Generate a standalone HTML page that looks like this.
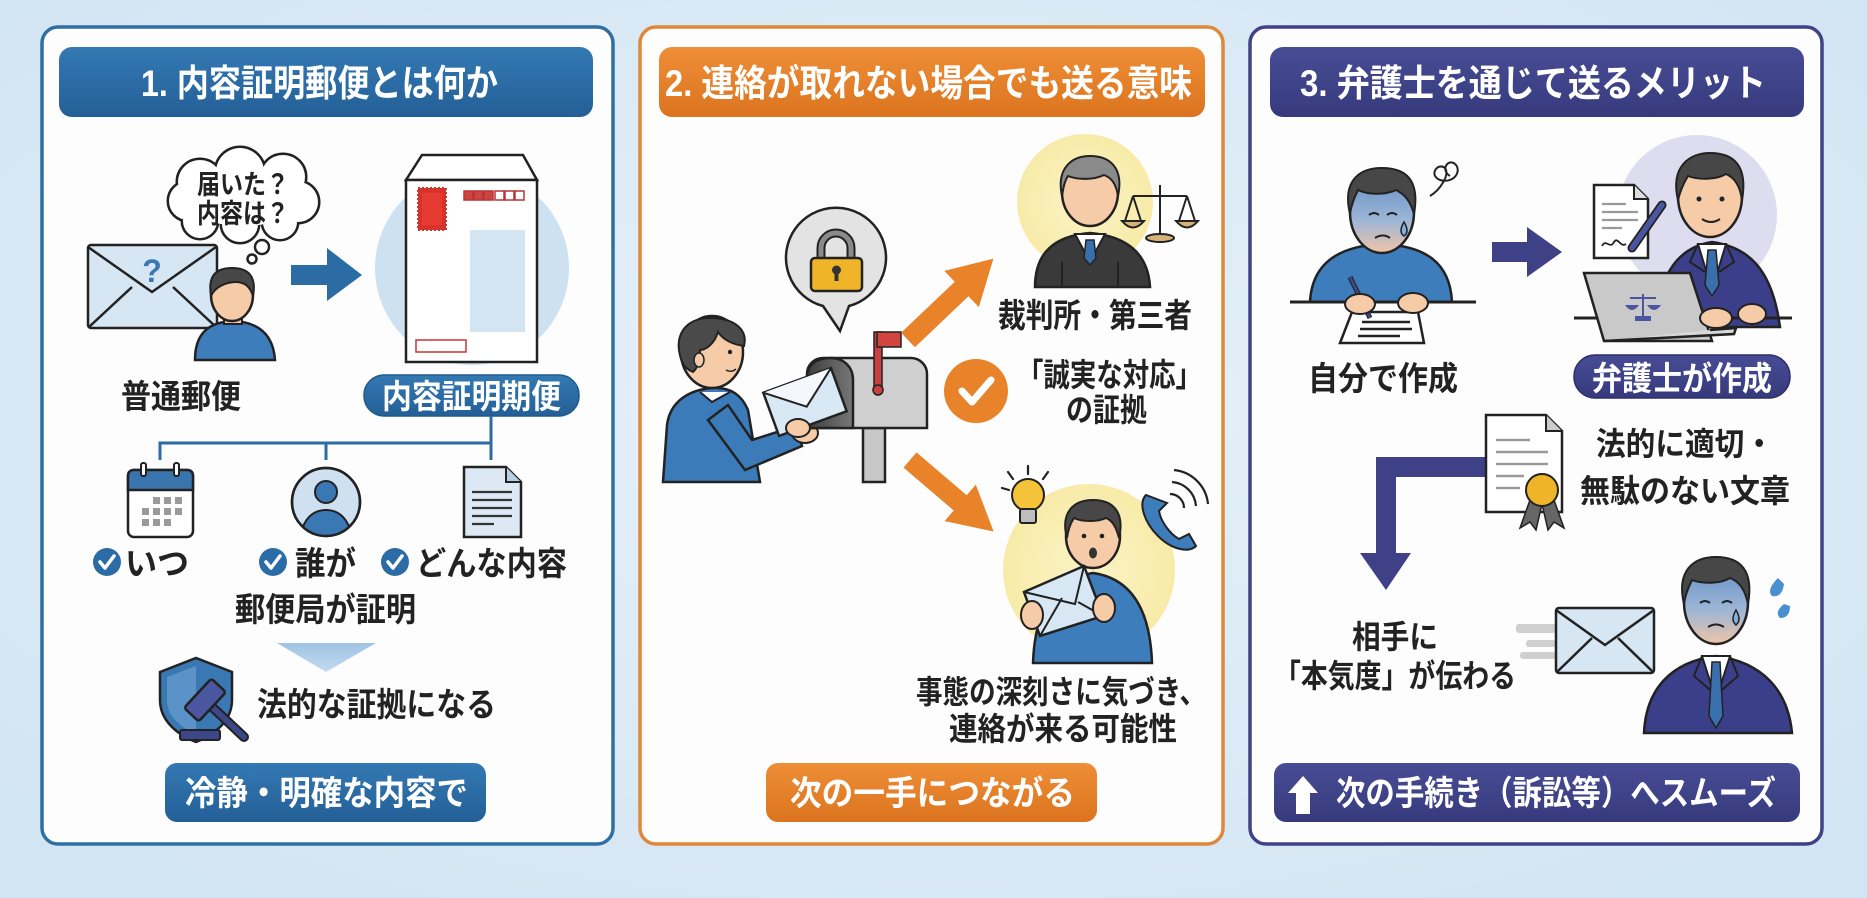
<!DOCTYPE html>
<html><head><meta charset="utf-8">
<style>
html,body{margin:0;padding:0;width:1867px;height:898px;overflow:hidden;background:#d9eaf6;}
svg{display:block}
text{font-family:"Liberation Sans","Noto Sans CJK JP",sans-serif;font-weight:bold;}
</style></head><body>
<svg width="1867" height="898" viewBox="0 0 1867 898" xmlns="http://www.w3.org/2000/svg">
<defs>
<radialGradient id="bg" cx="50%" cy="45%" r="70%"><stop offset="0" stop-color="#e6f1f9"/><stop offset="1" stop-color="#d2e5f3"/></radialGradient>
<linearGradient id="gB" x1="0" y1="0" x2="0" y2="1"><stop offset="0" stop-color="#3479b3"/><stop offset="1" stop-color="#245f97"/></linearGradient>
<linearGradient id="gO" x1="0" y1="0" x2="0" y2="1"><stop offset="0" stop-color="#ee8e36"/><stop offset="1" stop-color="#dc741f"/></linearGradient>
<linearGradient id="gN" x1="0" y1="0" x2="0" y2="1"><stop offset="0" stop-color="#484c95"/><stop offset="1" stop-color="#363a7c"/></linearGradient>
<linearGradient id="tri" x1="0" y1="0" x2="0" y2="1"><stop offset="0" stop-color="#9fc3e3"/><stop offset="1" stop-color="#c3dbef"/></linearGradient>
<linearGradient id="worry" x1="0" y1="0" x2="0" y2="1"><stop offset="0" stop-color="#5f8cc4"/><stop offset="0.6" stop-color="#9db6d6"/><stop offset="1" stop-color="#f0c4a8"/></linearGradient>
<radialGradient id="yel" cx="50%" cy="50%" r="50%"><stop offset="0" stop-color="#fbf3c6"/><stop offset="1" stop-color="#f8eba8"/></radialGradient>
<linearGradient id="mb" x1="0" y1="0" x2="1" y2="0"><stop offset="0" stop-color="#3e3e3e"/><stop offset="1" stop-color="#777"/></linearGradient>
<clipPath id="pc"><circle cx="326" cy="502" r="33"/></clipPath>
</defs>

<rect width="1867" height="898" fill="url(#bg)"/>

<!-- Panels -->
<rect x="42" y="27" width="571" height="817" rx="16" fill="#fdfdfd" stroke="#2f6fa3" stroke-width="3.5"/>
<rect x="640" y="27" width="583" height="817" rx="16" fill="#fdfdfd" stroke="#e0883a" stroke-width="3.5"/>
<rect x="1250" y="27" width="572" height="817" rx="16" fill="#fdfdfd" stroke="#3f4286" stroke-width="3.5"/>

<!-- Headers -->
<rect x="59" y="47" width="534" height="70" rx="13" fill="url(#gB)"/>
<rect x="659" y="47" width="546" height="70" rx="13" fill="url(#gO)"/>
<rect x="1270" y="47" width="534" height="70" rx="13" fill="url(#gN)"/>
<text x="141" y="96" font-size="37" fill="#fff" textLength="357" lengthAdjust="spacingAndGlyphs">1. 内容証明郵便とは何か</text>
<text x="665" y="96" font-size="37" fill="#fff" textLength="527" lengthAdjust="spacingAndGlyphs">2. 連絡が取れない場合でも送る意味</text>
<text x="1300" y="96" font-size="37" fill="#fff" textLength="466" lengthAdjust="spacingAndGlyphs">3. 弁護士を通じて送るメリット</text>

<!-- ============ PANEL 1 ============ -->
<g stroke="#222" stroke-width="5">
<circle cx="200" cy="182" r="22"/><circle cx="240" cy="172" r="24"/><circle cx="283" cy="177" r="22"/>
<circle cx="298" cy="202" r="20"/><circle cx="280" cy="222" r="17"/><circle cx="240" cy="224" r="18"/>
<circle cx="200" cy="221" r="17"/><circle cx="188" cy="201" r="19"/>
</g>
<g fill="#fff">
<circle cx="200" cy="182" r="22"/><circle cx="240" cy="172" r="24"/><circle cx="283" cy="177" r="22"/>
<circle cx="298" cy="202" r="20"/><circle cx="280" cy="222" r="17"/><circle cx="240" cy="224" r="18"/>
<circle cx="200" cy="221" r="17"/><circle cx="188" cy="201" r="19"/>
<ellipse cx="243" cy="198" rx="60" ry="28"/>
</g>
<circle cx="262" cy="247" r="7" fill="#fff" stroke="#222" stroke-width="2.5"/>
<circle cx="252" cy="259" r="4.5" fill="#fff" stroke="#222" stroke-width="2.5"/>
<text x="197" y="194" font-size="27" fill="#222" textLength="92" lengthAdjust="spacingAndGlyphs">届いた？</text>
<text x="197" y="223" font-size="27" fill="#222" textLength="92" lengthAdjust="spacingAndGlyphs">内容は？</text>

<rect x="88" y="245" width="129" height="83" rx="3" fill="#d6e6f3" stroke="#222" stroke-width="2.5"/>
<path d="M88,247 L152,292 L216,247 M89,327 L132,287 M216,327 L173,287" fill="none" stroke="#222" stroke-width="2.5"/>
<text x="152" y="282" font-size="32" fill="#3a78b3" text-anchor="middle">?</text>

<path d="M195,360 C195,332 210,322 233,321 C256,322 273,332 275,360 Z" fill="#3e7dbb" stroke="#222" stroke-width="2.5"/>
<rect x="224" y="312" width="18" height="12" fill="#f4c7a3" stroke="#222" stroke-width="2"/>
<ellipse cx="232" cy="295" rx="21" ry="26" fill="#f6cba7" stroke="#222" stroke-width="2.5"/>
<path d="M211,296 C207,272 220,268 232,268 C247,268 257,275 253,296 C250,286 244,282 236,282 C226,282 215,287 211,296 Z" fill="#474747" stroke="#222" stroke-width="2"/>

<polygon points="291,265 327,265 327,248 362,275 327,301 327,285 291,285" fill="#2b6ca5"/>

<circle cx="472" cy="268" r="97" fill="#cde1f1"/>
<polygon points="422,155 523,155 537,180 406,180" fill="#fff" stroke="#222" stroke-width="2.5"/>
<rect x="406" y="180" width="131" height="182" fill="#fff" stroke="#222" stroke-width="2.5"/>
<rect x="418" y="188" width="28" height="42" fill="#d9312b" stroke="#c0392b" stroke-width="2" stroke-dasharray="2 2"/>
<rect x="422" y="193" width="20" height="32" fill="#e53b32"/>
<g stroke="#b33" stroke-width="1.5">
<rect x="464" y="191" width="9" height="9" fill="#c44"/><rect x="474" y="191" width="9" height="9" fill="#c44"/><rect x="484" y="191" width="9" height="9" fill="#c44"/>
<rect x="495" y="191" width="9" height="9" fill="#fff"/><rect x="505" y="191" width="9" height="9" fill="#fff"/><rect x="515" y="191" width="9" height="9" fill="#fff"/>
</g>
<rect x="470" y="230" width="55" height="102" fill="#d3e4f2"/>
<rect x="416" y="340" width="50" height="12" fill="none" stroke="#c33" stroke-width="1.5"/>

<text x="121" y="408" font-size="33" fill="#222" textLength="120" lengthAdjust="spacingAndGlyphs">普通郵便</text>
<rect x="364" y="375" width="215" height="41" rx="20" fill="url(#gB)" stroke="#1f5a8e" stroke-width="1.5"/>
<text x="382" y="408" font-size="33" fill="#fff" textLength="179" lengthAdjust="spacingAndGlyphs">内容証明期便</text>

<path d="M160,460 V443 H491 M326,443 V460 M491,416 V460" fill="none" stroke="#2b6ca5" stroke-width="3"/>

<rect x="128" y="470" width="65" height="67" rx="6" fill="#fff" stroke="#222" stroke-width="2.5"/>
<path d="M128,490 V476 Q128,470 134,470 H187 Q193,470 193,476 V490 Z" fill="#3a74ad" stroke="#222" stroke-width="2.5"/>
<rect x="141" y="463" width="5" height="13" rx="2" fill="#fff" stroke="#222" stroke-width="2"/>
<rect x="174" y="463" width="5" height="13" rx="2" fill="#fff" stroke="#222" stroke-width="2"/>
<g fill="#9a9a9a">
<rect x="153" y="497" width="7" height="7"/><rect x="164" y="497" width="7" height="7"/><rect x="175" y="497" width="7" height="7"/>
<rect x="142" y="508" width="7" height="7"/><rect x="153" y="508" width="7" height="7"/><rect x="164" y="508" width="7" height="7"/><rect x="175" y="508" width="7" height="7"/>
<rect x="142" y="519" width="7" height="7"/><rect x="153" y="519" width="7" height="7"/><rect x="164" y="519" width="7" height="7"/>
</g>

<circle cx="326" cy="502" r="34" fill="#cfe1f1" stroke="#222" stroke-width="2.5"/>
<g clip-path="url(#pc)">
<path d="M300,540 C302,518 314,510 326,510 C338,510 350,518 352,540 Z" fill="#3a78b3" stroke="#222" stroke-width="2"/>
</g>
<circle cx="326" cy="492" r="11" fill="#3a78b3" stroke="#222" stroke-width="2"/>
<circle cx="326" cy="502" r="34" fill="none" stroke="#222" stroke-width="2.5"/>

<path d="M464,467 H506 L521,482 V537 H464 Z" fill="#dce9f5" stroke="#222" stroke-width="2.5"/>
<path d="M506,467 V482 H521" fill="#b9cfe3" stroke="#222" stroke-width="2"/>
<path d="M472,492 H512 M472,500 H512 M472,508 H512 M472,516 H512 M472,524 H494" stroke="#333" stroke-width="2.2"/>

<g>
<circle cx="107" cy="562" r="14" fill="#2c6ca6"/><path d="M100,562 L105,568 L114,556" fill="none" stroke="#fff" stroke-width="3.5" stroke-linecap="round" stroke-linejoin="round"/>
<circle cx="273" cy="562" r="14" fill="#2c6ca6"/><path d="M266,562 L271,568 L280,556" fill="none" stroke="#fff" stroke-width="3.5" stroke-linecap="round" stroke-linejoin="round"/>
<circle cx="395" cy="562" r="14" fill="#2c6ca6"/><path d="M388,562 L393,568 L402,556" fill="none" stroke="#fff" stroke-width="3.5" stroke-linecap="round" stroke-linejoin="round"/>
</g>
<text x="125" y="575" font-size="33" fill="#222" textLength="64" lengthAdjust="spacingAndGlyphs">いつ</text>
<text x="295" y="575" font-size="33" fill="#222" textLength="61" lengthAdjust="spacingAndGlyphs">誰が</text>
<text x="416" y="575" font-size="33" fill="#222" textLength="151" lengthAdjust="spacingAndGlyphs">どんな内容</text>
<text x="235" y="621" font-size="33" fill="#222" textLength="181" lengthAdjust="spacingAndGlyphs">郵便局が証明</text>

<polygon points="277,643 376,643 326,672" fill="url(#tri)"/>

<path d="M160,672 L196,658 L232,672 V700 C232,720 216,734 196,742 C176,734 160,720 160,700 Z" fill="#3a78b3" stroke="#222" stroke-width="2.5"/>
<path d="M167,677 L196,666 L224,677 V700 C224,716 212,727 196,734 C180,727 167,716 167,700 Z" fill="#5b93c8"/>
<path d="M196,666 L224,677 V700 C224,716 212,727 196,734 Z" fill="#3a78b3"/>
<rect x="180" y="730" width="40" height="10" rx="2" fill="#3d4688" stroke="#222" stroke-width="2"/>
<line x1="210" y1="705" x2="244" y2="737" stroke="#222" stroke-width="10" stroke-linecap="round"/>
<line x1="210" y1="705" x2="244" y2="737" stroke="#3d4688" stroke-width="6" stroke-linecap="round"/>
<g transform="translate(205,700) rotate(43)">
<rect x="-10" y="-20" width="20" height="40" rx="3" fill="#4a56a0" stroke="#222" stroke-width="2.5"/>
</g>
<text x="257" y="716" font-size="33" fill="#222" textLength="239" lengthAdjust="spacingAndGlyphs">法的な証拠になる</text>

<rect x="165" y="763" width="321" height="59" rx="12" fill="url(#gB)"/>
<text x="185" y="805" font-size="34" fill="#fff" textLength="283" lengthAdjust="spacingAndGlyphs">冷静・明確な内容で</text>

<!-- ============ PANEL 2 ============ -->
<path d="M823,306 L840,331 L849,306 A50,50 0 1 0 823,306 Z" fill="#e3e3e3" stroke="#222" stroke-width="2.5"/>
<path d="M821,262 V248 A15,15 0 0 1 851,248 V262" fill="none" stroke="#222" stroke-width="9"/>
<path d="M821,262 V248 A15,15 0 0 1 851,248 V262" fill="none" stroke="#8a8a8a" stroke-width="5"/>
<rect x="811" y="258" width="51" height="33" rx="4" fill="#f0b429" stroke="#222" stroke-width="2.5"/>
<circle cx="836.5" cy="270" r="4.5" fill="#333"/><rect x="834.5" y="271" width="4" height="10" fill="#333"/>

<path d="M663,482 L667,425 C670,402 688,390 712,388 C732,387 742,396 748,410 L760,482 Z" fill="#3c7bb9" stroke="#222" stroke-width="2.5"/>
<path d="M700,392 L712,402 L730,392" fill="#fff" stroke="#222" stroke-width="2"/>
<path d="M708,420 L745,470 L802,446 L796,426 L752,440 L728,405 Z" fill="#3c7bb9" stroke="#222" stroke-width="2.5"/>
<ellipse cx="805" cy="433" rx="13" ry="10" fill="#f6cba7" stroke="#222" stroke-width="2"/>
<ellipse cx="712" cy="352" rx="31" ry="36" fill="#f6cba7" stroke="#222" stroke-width="2.5"/>
<path d="M682,362 C672,335 686,318 710,318 C735,318 748,330 744,346 C730,344 722,338 718,332 C714,345 705,350 700,350 C700,358 698,368 693,372 C688,370 684,366 682,362 Z" fill="#4a4a4a" stroke="#222" stroke-width="2"/>
<ellipse cx="699" cy="360" rx="5" ry="7" fill="#f6cba7" stroke="#222" stroke-width="1.5"/>
<circle cx="730" cy="352" r="2.2" fill="#222"/>
<path d="M726,370 Q731,373 736,369" fill="none" stroke="#222" stroke-width="1.5"/>

<rect x="863" y="428" width="22" height="54" fill="#c8c8c8" stroke="#222" stroke-width="2.5"/>
<path d="M807,428 V374 A16,16 0 0 1 823,358 H911 A16,16 0 0 1 927,374 V428 Z" fill="#cfcfcf" stroke="#222" stroke-width="2.5"/>
<path d="M807,428 V378 C807,364 817,358 830,358 C845,358 853,368 853,380 V428 Z" fill="url(#mb)" stroke="#222" stroke-width="2.5"/>
<rect x="874" y="332" width="8" height="58" fill="#c94040" stroke="#222" stroke-width="1.5"/>
<rect x="877" y="332" width="24" height="15" fill="#d0453f" stroke="#222" stroke-width="1.5"/>
<circle cx="878" cy="390" r="5" fill="#c94040" stroke="#222" stroke-width="1.5"/>
<g transform="translate(805,402) rotate(-20)">
<rect x="-36" y="-23" width="72" height="46" fill="#d9e8f5" stroke="#222" stroke-width="2.5"/>
<path d="M-36,-23 L0,5 L36,-23" fill="#f4f8fc" stroke="#222" stroke-width="2"/>
</g>
<ellipse cx="798" cy="428" rx="12" ry="9" fill="#f6cba7" stroke="#222" stroke-width="2"/>

<g transform="translate(908,340) rotate(-43.6)" fill="#e8832a">
<rect x="0" y="-10" width="80" height="20"/>
<polygon points="74,-25 118,0 74,25"/>
</g>
<g transform="translate(910,460) rotate(40.5)" fill="#e8832a">
<rect x="0" y="-10" width="72" height="20"/>
<polygon points="66,-24 110,0 66,24"/>
</g>

<circle cx="1085" cy="202" r="68" fill="url(#yel)"/>
<path d="M1035,287 C1035,252 1055,236 1090,233 C1125,236 1148,252 1150,287 Z" fill="#3a3a3a" stroke="#222" stroke-width="2.5"/>
<path d="M1075,234 L1090,262 L1105,234 Z" fill="#fff" stroke="#222" stroke-width="2"/>
<path d="M1086,240 L1094,240 L1096,258 L1090,265 L1084,258 Z" fill="#3a6fae" stroke="#222" stroke-width="1.5"/>
<path d="M1062,287 V262 M1118,287 V262" stroke="#222" stroke-width="2"/>
<ellipse cx="1090" cy="192" rx="28" ry="34" fill="#f6cba7" stroke="#222" stroke-width="2.5"/>
<path d="M1062,196 C1056,168 1072,156 1090,156 C1110,156 1124,168 1118,196 C1116,184 1112,178 1104,175 C1094,180 1078,180 1068,176 C1064,182 1063,190 1062,196 Z" fill="#8a8a8a" stroke="#222" stroke-width="2"/>
<g stroke="#222" stroke-width="2">
<line x1="1160" y1="185" x2="1160" y2="236"/>
<line x1="1133" y1="196" x2="1187" y2="196"/>
<path d="M1133,196 L1125,221 M1133,196 L1141,221 M1187,196 L1179,221 M1187,196 L1195,221" fill="none"/>
<path d="M1122,221 Q1133,234 1144,221 Z" fill="#d9b27a"/>
<path d="M1176,221 Q1187,234 1198,221 Z" fill="#d9b27a"/>
<ellipse cx="1160" cy="238" rx="14" ry="4" fill="#d9b27a"/>
</g>
<text x="998" y="327" font-size="33" fill="#222" textLength="194" lengthAdjust="spacingAndGlyphs">裁判所・第三者</text>

<circle cx="976" cy="391" r="32" fill="#e8832a"/>
<path d="M962,391 L972,402 L991,380" fill="none" stroke="#fff" stroke-width="7" stroke-linecap="round" stroke-linejoin="round"/>
<text x="1017" y="386" font-size="32" fill="#222" textLength="185" lengthAdjust="spacingAndGlyphs">「誠実な対応」</text>
<text x="1066" y="421" font-size="32" fill="#222" textLength="81" lengthAdjust="spacingAndGlyphs">の証拠</text>

<!-- surprised person -->
<circle cx="1089" cy="570" r="86" fill="url(#yel)"/>
<path d="M1033,663 C1035,605 1058,578 1093,573 C1128,578 1150,605 1152,663 Z" fill="#3e7dbb" stroke="#222" stroke-width="2.5"/>
<ellipse cx="1093" cy="536" rx="27" ry="32" fill="#f6cba7" stroke="#222" stroke-width="2.5"/>
<path d="M1067,538 C1060,512 1074,500 1093,500 C1113,500 1125,512 1119,538 C1116,526 1112,520 1106,518 C1098,522 1082,522 1074,518 C1070,524 1068,530 1067,538 Z" fill="#474747" stroke="#222" stroke-width="2"/>
<circle cx="1084" cy="536" r="2.3" fill="#222"/><circle cx="1102" cy="536" r="2.3" fill="#222"/>
<ellipse cx="1093" cy="553" rx="4" ry="5.5" fill="#333"/>
<polygon points="1024,592 1084,566 1103,616 1040,636" fill="#d7e7f4" stroke="#222" stroke-width="2.5"/>
<path d="M1024,592 L1075,604 L1084,566 M1040,636 L1062,598 M1103,616 L1078,602" fill="none" stroke="#222" stroke-width="2"/>
<ellipse cx="1032" cy="615" rx="11" ry="14" fill="#f6cba7" stroke="#222" stroke-width="2"/>
<ellipse cx="1104" cy="608" rx="11" ry="14" fill="#f6cba7" stroke="#222" stroke-width="2"/>
<circle cx="1028" cy="495" r="16" fill="#f4c33a" stroke="#222" stroke-width="2"/>
<rect x="1020" y="509" width="16" height="14" rx="2" fill="#bdbdbd" stroke="#222" stroke-width="2"/>
<path d="M1008,472 L1013,479 M1028,466 V474 M1048,472 L1043,479 M1002,488 L1009,490" stroke="#222" stroke-width="2.2" stroke-linecap="round"/>
<path d="M1146,495 C1138,503 1144,522 1158,536 C1172,550 1189,553 1196,546 L1189,534 L1179,539 C1170,534 1161,522 1159,511 L1167,503 Z" fill="#3e7dbb" stroke="#222" stroke-width="2"/>
<path d="M1170,494 A14,14 0 0 1 1184,508 M1172,482 A26,26 0 0 1 1196,506 M1174,470 A38,38 0 0 1 1208,504" fill="none" stroke="#222" stroke-width="2.2"/>

<text x="916" y="703" font-size="32" fill="#222" textLength="290" lengthAdjust="spacingAndGlyphs">事態の深刻さに気づき、</text>
<text x="949" y="740" font-size="32" fill="#222" textLength="228" lengthAdjust="spacingAndGlyphs">連絡が来る可能性</text>

<rect x="766" y="763" width="331" height="59" rx="12" fill="url(#gO)"/>
<text x="790" y="805" font-size="34" fill="#fff" textLength="285" lengthAdjust="spacingAndGlyphs">次の一手につながる</text>

<!-- ============ PANEL 3 ============ -->
<path d="M1310,302 C1312,262 1340,246 1382,244 C1425,246 1450,262 1452,302 Z" fill="#3e7dbb" stroke="#222" stroke-width="2.5"/>
<ellipse cx="1382" cy="212" rx="32" ry="41" fill="url(#worry)" stroke="#222" stroke-width="2.5"/>
<path d="M1350,214 C1342,180 1360,168 1382,168 C1406,168 1420,180 1414,214 C1410,200 1404,194 1396,190 C1386,195 1368,195 1358,190 C1354,198 1351,206 1350,214 Z" fill="#474747" stroke="#222" stroke-width="2"/>
<path d="M1369,215 Q1374,211 1379,215 M1387,215 Q1392,211 1397,215" fill="none" stroke="#222" stroke-width="2"/>
<path d="M1375,238 Q1383,233 1390,238" fill="none" stroke="#222" stroke-width="2"/>
<path d="M1404,222 Q1398,232 1404,236 Q1410,232 1404,222 Z" fill="#7fb0e0" stroke="#222" stroke-width="1.5"/>
<path d="M1430,196 C1440,190 1450,175 1445,168 C1438,162 1428,175 1440,180 C1455,184 1462,170 1455,164 C1448,158 1440,170 1450,176" fill="none" stroke="#222" stroke-width="2"/>
<line x1="1290" y1="302" x2="1476" y2="302" stroke="#222" stroke-width="3"/>
<polygon points="1352,312 1418,312 1424,343 1340,343" fill="#fff" stroke="#222" stroke-width="2.5"/>
<path d="M1362,322 H1410 M1360,329 H1412 M1358,336 H1400" stroke="#222" stroke-width="2.5"/>
<line x1="1350" y1="277" x2="1370" y2="318" stroke="#222" stroke-width="5"/>
<line x1="1350" y1="277" x2="1370" y2="318" stroke="#3d4688" stroke-width="3"/>
<ellipse cx="1360" cy="304" rx="15" ry="10" fill="#f6cba7" stroke="#222" stroke-width="2"/>
<ellipse cx="1413" cy="303" rx="15" ry="10" fill="#f6cba7" stroke="#222" stroke-width="2"/>

<polygon points="1492,242 1527,242 1527,227 1562,252 1527,277 1527,262 1492,262" fill="#3e4186"/>

<circle cx="1697" cy="215" r="80" fill="#dedcef"/>
<path d="M1656,327 C1658,272 1680,247 1712,242 C1747,247 1772,267 1780,327 Z" fill="#3b3f8a" stroke="#222" stroke-width="2.5"/>
<path d="M1698,244 L1712,290 L1726,244 Z" fill="#fff" stroke="#222" stroke-width="2"/>
<path d="M1708,250 L1716,250 L1719,285 L1712,296 L1705,285 Z" fill="#3a6fae" stroke="#222" stroke-width="1.5"/>
<path d="M1698,244 L1690,262 L1705,272 M1726,244 L1734,262 L1719,272" fill="none" stroke="#222" stroke-width="2"/>
<ellipse cx="1710" cy="196" rx="32" ry="41" fill="#f6cba7" stroke="#222" stroke-width="2.5"/>
<path d="M1678,200 C1670,166 1690,153 1710,153 C1734,153 1748,166 1742,200 C1740,186 1735,178 1726,174 C1716,180 1698,180 1688,176 C1683,184 1680,192 1678,200 Z" fill="#474747" stroke="#222" stroke-width="2"/>
<circle cx="1699" cy="199" r="2.5" fill="#222"/><circle cx="1722" cy="199" r="2.5" fill="#222"/>
<path d="M1702,219 Q1711,225 1720,219" fill="none" stroke="#222" stroke-width="2"/>
<path d="M1594,185 H1634 L1648,199 V258 H1594 Z" fill="#fff" stroke="#222" stroke-width="2.5"/>
<path d="M1634,185 V199 H1648" fill="#ddd" stroke="#222" stroke-width="2"/>
<path d="M1602,204 H1626 M1602,212 H1638 M1602,220 H1638 M1602,228 H1622" stroke="#999" stroke-width="2.2"/>
<path d="M1602,246 C1606,238 1610,250 1614,242 C1618,236 1620,248 1626,244" fill="none" stroke="#222" stroke-width="1.8"/>
<line x1="1662" y1="205" x2="1632" y2="248" stroke="#222" stroke-width="9" stroke-linecap="round"/>
<line x1="1662" y1="205" x2="1632" y2="248" stroke="#4a56a0" stroke-width="5.5" stroke-linecap="round"/>
<line x1="1574" y1="318" x2="1792" y2="318" stroke="#222" stroke-width="3"/>
<polygon points="1584,273 1690,273 1712,341 1604,341" fill="#c9c9c9" stroke="#222" stroke-width="2.5"/>
<path d="M1604,341 L1734,334 L1736,328 L1710,330" fill="#d8d8d8" stroke="#222" stroke-width="2.5"/>
<g stroke="#4a56a0" stroke-width="2" fill="#4a56a0">
<line x1="1643" y1="294" x2="1643" y2="318"/><line x1="1630" y1="298" x2="1656" y2="298"/>
<path d="M1627,306 Q1632,312 1637,306 Z"/><path d="M1649,306 Q1654,312 1659,306 Z"/>
<rect x="1636" y="317" width="14" height="3"/>
</g>
<ellipse cx="1716" cy="318" rx="16" ry="10" fill="#f6cba7" stroke="#222" stroke-width="2"/>
<ellipse cx="1752" cy="314" rx="14" ry="10" fill="#f6cba7" stroke="#222" stroke-width="2"/>

<text x="1308" y="390" font-size="33" fill="#222" textLength="150" lengthAdjust="spacingAndGlyphs">自分で作成</text>
<rect x="1574" y="355" width="216" height="43" rx="21" fill="url(#gN)" stroke="#2c2f6a" stroke-width="1.5"/>
<text x="1592" y="390" font-size="33" fill="#fff" textLength="180" lengthAdjust="spacingAndGlyphs">弁護士が作成</text>

<path d="M1490,457 H1376 V553 H1360 L1386,590 L1411,553 H1396 V477 H1490 Z" fill="#3e4186"/>
<path d="M1486,415 H1546 L1562,431 V512 H1486 Z" fill="#fff" stroke="#222" stroke-width="2.5"/>
<path d="M1546,415 V431 H1562" fill="#ccc" stroke="#222" stroke-width="2"/>
<path d="M1496,440 H1530 M1496,452 H1548 M1496,464 H1548 M1496,476 H1524 M1496,488 H1520" stroke="#999" stroke-width="2.5"/>
<polygon points="1530,500 1520,528 1530,522 1536,530 1542,504" fill="#666" stroke="#222" stroke-width="1.5"/>
<polygon points="1554,500 1564,528 1554,522 1548,530 1542,504" fill="#666" stroke="#222" stroke-width="1.5"/>
<circle cx="1542" cy="490" r="16" fill="#f0b429" stroke="#222" stroke-width="2"/>
<text x="1596" y="455" font-size="32" fill="#222" textLength="178" lengthAdjust="spacingAndGlyphs">法的に適切・</text>
<text x="1580" y="502" font-size="32" fill="#222" textLength="210" lengthAdjust="spacingAndGlyphs">無駄のない文章</text>

<text x="1352" y="648" font-size="32" fill="#222" textLength="86" lengthAdjust="spacingAndGlyphs">相手に</text>
<text x="1274" y="687" font-size="32" fill="#222" textLength="242" lengthAdjust="spacingAndGlyphs">「本気度」が伝わる</text>

<g fill="#cfcfcf">
<rect x="1516" y="624" width="40" height="9" rx="3"/>
<rect x="1526" y="640" width="30" height="7" rx="3"/>
<rect x="1520" y="652" width="36" height="7" rx="3"/>
</g>
<rect x="1556" y="608" width="98" height="65" rx="3" fill="#d6e6f3" stroke="#222" stroke-width="2.5"/>
<path d="M1556,610 L1605,645 L1654,610 M1557,672 L1592,638 M1653,672 L1618,638" fill="none" stroke="#222" stroke-width="2.5"/>

<path d="M1644,733 C1646,690 1670,662 1716,656 C1762,662 1788,690 1792,733 Z" fill="#3b3f8a" stroke="#222" stroke-width="2.5"/>
<path d="M1702,656 L1716,700 L1730,656 Z" fill="#fff" stroke="#222" stroke-width="2"/>
<path d="M1712,662 L1720,662 L1723,716 L1716,728 L1709,716 Z" fill="#3a6fae" stroke="#222" stroke-width="1.5"/>
<path d="M1702,656 L1694,676 L1710,690 M1730,656 L1738,676 L1722,690" fill="none" stroke="#222" stroke-width="2"/>
<ellipse cx="1716" cy="602" rx="32" ry="42" fill="url(#worry)" stroke="#222" stroke-width="2.5"/>
<path d="M1684,604 C1676,570 1694,557 1716,557 C1740,557 1754,570 1748,604 C1745,590 1740,582 1730,578 C1720,584 1702,584 1692,580 C1688,588 1685,596 1684,604 Z" fill="#474747" stroke="#222" stroke-width="2"/>
<path d="M1700,603 Q1705,599 1710,603 M1722,603 Q1727,599 1732,603" fill="none" stroke="#222" stroke-width="2"/>
<path d="M1708,627 Q1716,622 1724,627" fill="none" stroke="#222" stroke-width="2"/>
<path d="M1736,610 Q1730,620 1736,625 Q1742,620 1736,610 Z" fill="#7fb0e0" stroke="#222" stroke-width="1.5"/>
<path d="M1778,578 Q1766,590 1772,596 Q1782,598 1784,584 Z" fill="#4a8fd0"/>
<path d="M1784,604 Q1774,612 1780,618 Q1790,618 1790,606 Z" fill="#4a8fd0"/>

<rect x="1274" y="763" width="526" height="59" rx="12" fill="url(#gN)"/>
<polygon points="1303,776 1318,793 1310,793 1310,814 1296,814 1296,793 1288,793" fill="#fff"/>
<text x="1336" y="805" font-size="34" fill="#fff" textLength="440" lengthAdjust="spacingAndGlyphs">次の手続き（訴訟等）へスムーズ</text>
</svg>
</body></html>
